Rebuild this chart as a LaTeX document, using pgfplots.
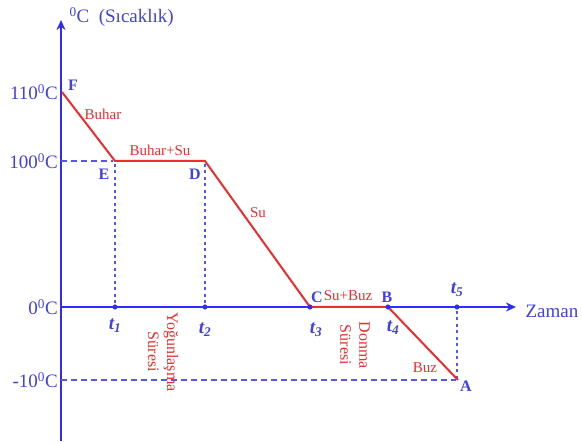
\documentclass[border=0pt]{standalone}
\usepackage{pgfplots}
\pgfplotsset{compat=1.18}
\usepackage{fontspec}
\setmainfont{Liberation Serif}
\usetikzlibrary{arrows.meta}
\definecolor{ablue}{RGB}{45,45,245}
\definecolor{dblue}{RGB}{85,85,240}
\definecolor{tblue}{RGB}{65,65,220}
\definecolor{lred}{RGB}{235,45,45}
\newcommand{\bigf}{\fontsize{19}{19}\selectfont}
\newcommand{\redf}{\fontsize{15}{15}\selectfont}
\newcommand{\tlab}[1]{{\bfseries\itshape t}\textsubscript{\bfseries\itshape #1}}
\begin{document}
\begin{tikzpicture}
\begin{axis}[
  scale only axis, width=455pt, height=421pt,
  xmin=0, xmax=455, ymin=-134, ymax=287,
  axis lines=middle,
  clip=false,
  axis line style={ablue, line width=2.8pt},
  x axis line style={-{Stealth[length=10pt,width=9pt]}},
  y axis line style={-{Stealth[length=10pt,width=9pt]}},
  xtick=\empty,
  ytick={215,146,0,-73},
  yticklabels={110\textsuperscript{0}C,100\textsuperscript{0}C,0\textsuperscript{0}C,-10\textsuperscript{0}C},
  hide obscured y ticks=false,
  major tick length=0pt,
  tick style={draw=none},
  yticklabel style={font=\bigf, text=tblue, inner sep=2pt, xshift=-1pt},
]
\path (axis cs:-61,-134) rectangle (axis cs:521,307);
% dashed guides
\addplot[dblue, line width=1.6pt, dash pattern=on 6pt off 4pt] coordinates {(0,146) (52,146)};
\addplot[dblue, line width=1.8pt, dash pattern=on 3pt off 3.5pt] coordinates {(54,143) (54,0)};
\addplot[dblue, line width=1.8pt, dash pattern=on 3pt off 3.5pt] coordinates {(144,143) (144,0)};
\addplot[dblue, line width=1.6pt, dash pattern=on 6pt off 4pt] coordinates {(0,-73) (395,-73)};
\addplot[dblue, line width=1.8pt, dash pattern=on 3pt off 3.5pt] coordinates {(396,-72) (396,0)};
% cooling curve
\addplot[lred, line width=2pt] coordinates {(1,215) (54,146) (144,146) (249,0) (327,0) (397,-73)};
% points on time axis
\addplot[only marks, mark=*, mark size=2.3pt, ablue] coordinates {(54,0) (144,0) (249,0) (327,0) (396,0)};
% point letters
\begin{scope}[font=\fontsize{16}{16}\selectfont\bfseries, text=tblue]
\node at (axis cs:12,222) {F};
\node at (axis cs:43,133) {E};
\node at (axis cs:134,133) {D};
\node at (axis cs:256,10) {C};
\node at (axis cs:326,10) {B};
\node at (axis cs:405,-79) {A};
\end{scope}
% phase labels
\begin{scope}[font=\redf, text=lred]
\node at (axis cs:42,193) {Buhar};
\node at (axis cs:99,157) {Buhar+Su};
\node at (axis cs:197,94) {Su};
\node at (axis cs:287,11) {Su+Buz};
\node at (axis cs:364,-61) {Buz};
\node[rotate=-90, align=center, font=\fontsize{16}{19}\selectfont] at (axis cs:102,-45) {Yoğunlaşma\\Süresi};
\node[rotate=-90, align=center, font=\fontsize{16}{19}\selectfont] at (axis cs:294,-38) {Donma\\Süresi};
\end{scope}
% time labels
\begin{scope}[font=\fontsize{19}{19}\selectfont, text=tblue]
\node at (axis cs:54,-19) {\tlab{1}};
\node at (axis cs:144,-23) {\tlab{2}};
\node at (axis cs:255,-23) {\tlab{3}};
\node at (axis cs:332,-21) {\tlab{4}};
\node at (axis cs:396,17) {\tlab{5}};
\end{scope}
\node[font=\bigf, text=tblue] at (axis cs:491,-4) {Zaman};
\node[font=\bigf, text=tblue, anchor=west] at (axis cs:5,290) {\textsuperscript{0}C\ \ (Sıcaklık)};
\end{axis}
\end{tikzpicture}
\end{document}
